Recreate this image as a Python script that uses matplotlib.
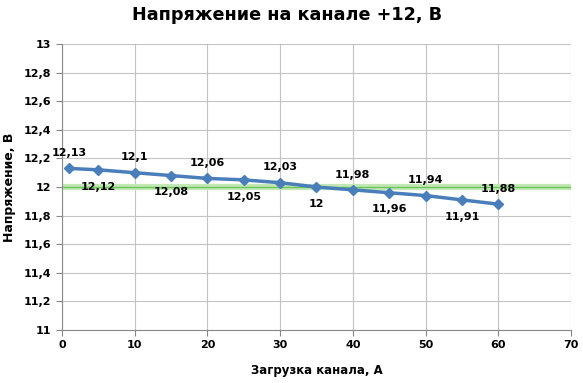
import matplotlib
matplotlib.use("Agg")
import matplotlib.pyplot as plt
import matplotlib.ticker as tck

load = [1, 5, 10, 15, 20, 25, 30, 35, 40, 45, 50, 55, 60]
voltage = [12.13, 12.12, 12.1, 12.08, 12.06, 12.05, 12.03, 12.0, 11.98, 11.96, 11.94, 11.91, 11.88]
nominal = 12.0

plt.rcParams['font.family'] = ['DejaVu Sans']
plt.rcParams['font.weight'] = 'bold'

def fmt(v):
    return ('%g' % round(v, 2)).replace('.', ',')

fig = plt.figure(figsize=(5.83, 3.83), dpi=100)
ax = fig.add_axes([0.1063, 0.1384, 0.8731, 0.7467])

ax.axhline(nominal, color='#c2e8b6', lw=4.5, zorder=2)
ax.axhline(nominal, color='#6cc45a', lw=1, zorder=2)
ax.plot(load, voltage, color='#4a7ebb', lw=2.5, marker='D', ms=5.5, zorder=3)

for i, (x, y) in enumerate(zip(load, voltage)):
    dy = 11 if i % 2 == 0 else -12
    ax.annotate(fmt(y), (x, y), xytext=(0, dy), textcoords='offset points',
                ha='center', va='center', fontsize=8, fontweight='bold')

ax.set_xlim(0, 70)
ax.set_ylim(11, 13)
ax.xaxis.set_major_locator(tck.MultipleLocator(10))
ax.yaxis.set_major_locator(tck.MultipleLocator(0.2))
ax.yaxis.set_major_formatter(tck.FuncFormatter(lambda v, p: fmt(v)))
ax.grid(True, color='#c4c4c4', lw=0.8)
ax.set_axisbelow(True)
for s in ['top', 'right']:
    ax.spines[s].set_visible(False)
for s in ['left', 'bottom']:
    ax.spines[s].set_color('#888888')
ax.tick_params(colors='#888888', labelcolor='black', labelsize=8, length=4)

fig.text(0.492, 0.962, 'Напряжение на канале +12, В', fontsize=12.7, fontweight='bold',
         ha='center', va='center')
ax.set_xlabel('Загрузка канала, А', fontsize=8.5, fontweight='bold', labelpad=10)
ax.set_ylabel('Напряжение, В', fontsize=9, fontweight='bold', labelpad=6)

fig.savefig('out.png', dpi=100)
